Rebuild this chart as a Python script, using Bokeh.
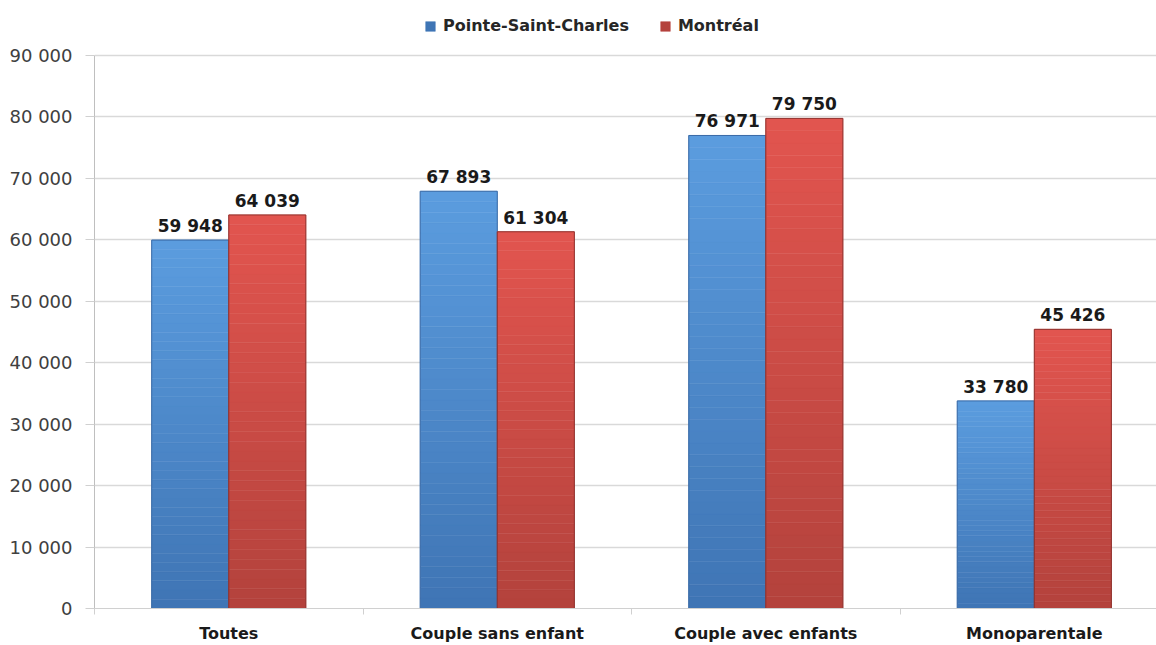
from bokeh.plotting import figure
from bokeh.models import (Range1d, FixedTicker, ColumnDataSource, Legend, LegendItem)
from bokeh.core.properties import value
from bokeh.embed import file_html
from bokeh.resources import INLINE

# ---- data ----
categories = ["Toutes", "Couple sans enfant", "Couple avec enfants", "Monoparentale"]
series_names = ["Pointe-Saint-Charles", "Montréal"]
psc_values = [59948, 67893, 76971, 33780]
mtl_values = [64039, 61304, 79750, 45426]
y_ticks = [0, 10000, 20000, 30000, 40000, 50000, 60000, 70000, 80000, 90000]
y_tick_labels = ["0", "10 000", "20 000", "30 000", "40 000", "50 000",
                 "60 000", "70 000", "80 000", "90 000"]

FONT = "DejaVu Sans"

def fmt(v):
    return f"{v:,}".replace(",", " ")

def hex2rgb(h):
    h = h.lstrip("#")
    return tuple(int(h[i:i + 2], 16) for i in (0, 2, 4))

def mix(c1, c2, t):
    a, b = hex2rgb(c1), hex2rgb(c2)
    return "#%02x%02x%02x" % tuple(int(round(a[i] + (b[i] - a[i]) * t)) for i in range(3))

# frame spans from canvas top to the zero line; 90 000 sits 55px below the top
y_top = 90000 * 609 / 554

p = figure(width=1156, height=645, output_backend="svg", toolbar_location=None,
           x_range=Range1d(0, 3.955), y_range=Range1d(0, y_top),
           min_border_left=94, min_border_right=0, min_border_top=0,
           min_border_bottom=36)
p.outline_line_color = None
p.background_fill_color = "white"
p.border_fill_color = "white"

bar_w = 0.287
centers = [i + 0.5 for i in range(len(categories))]
N = 40

series = [
    (psc_values, -bar_w / 2, "#3f74b4", "#5b9ddf", "#3a6aa6"),
    (mtl_values, bar_w / 2, "#b3423c", "#e2554f", "#8f302c"),
]

legend_items = []
for (vals, off, c_bot, c_top, c_line), name in zip(series, series_names):
    xs, bots, tops, cols = [], [], [], []
    for c, v in zip(centers, vals):
        for k in range(N):
            xs.append(c + off)
            bots.append(v * k / N)
            tops.append(v * (k + 1) / N)
            cols.append(mix(c_bot, c_top, (k + 0.5) / N))
    src = ColumnDataSource(dict(x=xs, bottom=bots, top=tops, color=cols))
    r = p.vbar(x="x", bottom="bottom", top="top", width=bar_w, source=src,
               fill_color="color", line_color="color", line_width=0.5)
    osrc = ColumnDataSource(dict(x=[c + off for c in centers], top=vals))
    p.vbar(x="x", top="top", width=bar_w, source=osrc, fill_alpha=0,
           line_color=c_line, line_width=1)
    lsrc = ColumnDataSource(dict(x=[c + off for c in centers], top=vals,
                                 label=[fmt(v) for v in vals]))
    p.text(x="x", y="top", text="label", source=lsrc, text_align="center",
           text_baseline="bottom", y_offset=-4, text_font=value(FONT),
           text_font_style="bold", text_font_size="17px", text_color="#1a1a1a")
    legend_items.append(LegendItem(label=name, renderers=[r], index=0))

# axes
p.xgrid.grid_line_color = None
p.ygrid.grid_line_color = "#d9d9d9"
p.ygrid.grid_line_width = 1.5
p.ygrid.ticker = FixedTicker(ticks=y_ticks)

yax = p.yaxis[0]
yax.ticker = FixedTicker(ticks=y_ticks)
yax.bounds = (0, 90000)
yax.major_label_overrides = {t: l for t, l in zip(y_ticks, y_tick_labels)}
yax.axis_line_color = "#bfbfbf"
yax.major_tick_line_color = "#d0d0d0"
yax.major_tick_out = 9
yax.major_tick_in = 0
yax.minor_tick_line_color = None
yax.major_label_standoff = 13
yax.major_label_text_font = FONT
yax.major_label_text_font_size = "18px"
yax.major_label_text_color = "#404040"

xax = p.xaxis[0]
xax.ticker = FixedTicker(ticks=centers, minor_ticks=[0, 1, 2, 3, 4])
xax.major_label_overrides = {c: l for c, l in zip(centers, categories)}
xax.axis_line_color = "#d0d0d0"
xax.major_tick_line_color = None
xax.major_tick_out = 0
xax.major_tick_in = 0
xax.minor_tick_line_color = "#d0d0d0"
xax.minor_tick_out = 6
xax.minor_tick_in = 0
xax.major_label_standoff = 9
xax.major_label_text_font = FONT
xax.major_label_text_font_style = "bold"
xax.major_label_text_font_size = "16px"
xax.major_label_text_color = "#1a1a1a"

legend = Legend(items=legend_items, orientation="horizontal", location=(330, 573),
                glyph_width=12, glyph_height=12, label_standoff=7, spacing=30,
                padding=4, margin=0, border_line_color=None,
                background_fill_alpha=0, label_text_font=FONT,
                label_text_font_style="bold", label_text_font_size="16px",
                label_text_color="#262626")
p.add_layout(legend, "center")

open("out.html", "w").write(file_html(p, INLINE))
